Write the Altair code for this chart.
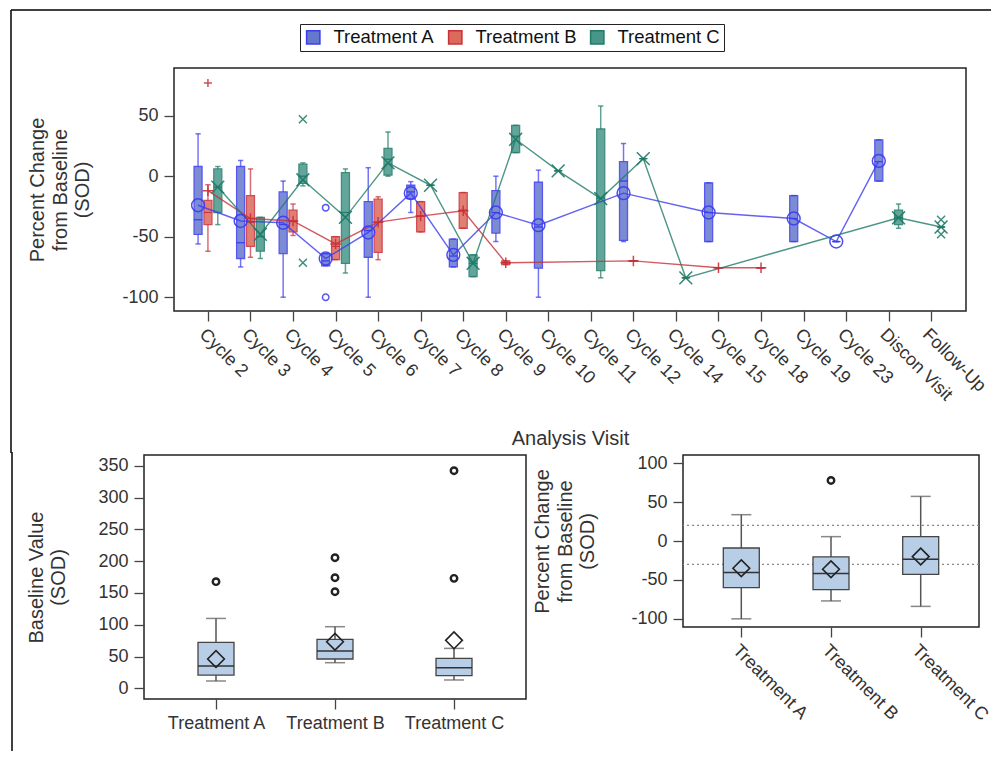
import json
import altair as alt
import pandas as pd

FONT = "Liberation Sans"

visits = ["Cycle 2", "Cycle 3", "Cycle 4", "Cycle 5", "Cycle 6", "Cycle 7", "Cycle 8",
          "Cycle 9", "Cycle 10", "Cycle 11", "Cycle 12", "Cycle 14", "Cycle 15",
          "Cycle 18", "Cycle 19", "Cycle 23", "Discon Visit", "Follow-Up"]
treatments = ["Treatment A", "Treatment B", "Treatment C"]

# ---- Top panel: percent change by visit ----
a_visit = ["Cycle 2", "Cycle 3", "Cycle 4", "Cycle 5", "Cycle 6", "Cycle 7", "Cycle 8",
           "Cycle 9", "Cycle 10", "Cycle 12", "Cycle 15", "Cycle 19", "Cycle 23", "Discon Visit"]
a_low = [-56, -75, -100, -74, -100, -30, -75, -54, -100, -54, -54, -54, -54, -4]
a_q1 = [-48, -68, -64, -74, -67, -18.5, -75, -47, -76, -53, -54, -54, -54, -4]
a_med = [-36, -55, -40, -70, -45, -13, -66, -30, -42, -4, -30, -35, -54, 12]
a_q3 = [8, 8, -13, -64, -21, -7.5, -52, -12, -5, 12, -5.5, -16, -54, 30]
a_high = [35, 13, -4, -64, 7, -4.5, -52, 0, 5, 27, -5.5, -16, -54, 30]
a_mean = [-24, -37, -38.5, -68, -46.5, -14, -65, -30, -40.5, -14, -30, -35, -54, 12.6]
a_out_visit = ["Cycle 5", "Cycle 5"]
a_out_value = [-26, -100]

b_visit = ["Cycle 2", "Cycle 3", "Cycle 4", "Cycle 5", "Cycle 6", "Cycle 7", "Cycle 8",
           "Cycle 9", "Cycle 12", "Cycle 15", "Cycle 18"]
b_low = [-62, -67, -49, -69, -69, -46, -43, -73, -70, -75.7, -75.7]
b_q1 = [-40, -58, -46, -69, -63, -46, -43, -73, -70, -75.7, -75.7]
b_med = [-30, -38, -37, -58, -38, -33, -28, -71.5, -70, -75.7, -75.7]
b_q3 = [-20, -16, -28, -50, -19, -21, -13.5, -70, -70, -75.7, -75.7]
b_high = [-7, 6, -23, -50, -17, -21, -13.5, -70, -70, -75.7, -75.7]
b_mean = [-12, -35, -37, -56, -38, -33, -28.6, -71.5, -70, -75.7, -75.7]
b_out_visit = ["Cycle 2"]
b_out_value = [77]

c_visit = ["Cycle 2", "Cycle 3", "Cycle 4", "Cycle 5", "Cycle 6", "Cycle 7", "Cycle 8",
           "Cycle 9", "Cycle 10", "Cycle 11", "Cycle 12", "Cycle 14", "Discon Visit", "Follow-Up"]
c_low = [-40, -68, -8, -80, 0, -7.5, -83, 19.5, 4.4, -84, 14.5, -84, -43, -42]
c_q1 = [-30, -62, -6, -72, 1, -7.5, -83, 19.5, 4.4, -78, 14.5, -84, -40, -42]
c_med = [-9, -50, 0, -30, 14, -7.5, -72, 33, 4.4, -18, 14.5, -84, -34, -42]
c_q3 = [6, -34, 10, 3, 23, -7.5, -65, 42, 4.4, 39, 14.5, -84, -28, -42]
c_high = [8, -34, 11, 6, 36.5, -7.5, -65, 42, 4.4, 58, 14.5, -84, -23, -42]
c_mean = [-9, -48, -3, -34, 11, -7.5, -72, 30.5, 4.4, -18.5, 14.5, -84, -34.4, -42]
c_out_visit = ["Cycle 4", "Cycle 4", "Follow-Up", "Follow-Up"]
c_out_value = [47, -71.5, -36, -48]

# ---- Bottom-left: baseline value ----
bl_low = [11.6, 40.4, 13.2]
bl_q1 = [21, 46.2, 20]
bl_med = [35.2, 58.8, 32.5]
bl_q3 = [72.3, 77, 47.2]
bl_high = [110, 97, 62.9]
bl_mean = [46.2, 73.4, 75.5]
bl_out_treat = ["Treatment A", "Treatment B", "Treatment B", "Treatment B", "Treatment C", "Treatment C"]
bl_out_value = [167.8, 205.5, 174, 152, 342.3, 173]

# ---- Bottom-right: percent change overall ----
br_low = [-100, -77, -84]
br_q1 = [-60, -62.4, -43]
br_med = [-40.5, -41.8, -23.5]
br_q3 = [-9, -20.5, 5.6]
br_high = [33.8, 5.6, 57.3]
br_mean = [-35, -36.3, -20]
br_out_treat = ["Treatment B"]
br_out_value = [77.8]
br_ref = [20, -30]

# ---------------- build tables ----------------
offsets = {"Treatment A": -0.232, "Treatment B": 0.0, "Treatment C": 0.232}


def stats_frame(name, vis, low, q1, med, q3, high, mean):
    return pd.DataFrame({"visit": vis, "treatment": name, "low": low, "q1": q1,
                         "med": med, "q3": q3, "high": high, "mean": mean})


stats = pd.concat([
    stats_frame("Treatment A", a_visit, a_low, a_q1, a_med, a_q3, a_high, a_mean),
    stats_frame("Treatment B", b_visit, b_low, b_q1, b_med, b_q3, b_high, b_mean),
    stats_frame("Treatment C", c_visit, c_low, c_q1, c_med, c_q3, c_high, c_mean),
], ignore_index=True)
stats["xpos"] = [visits.index(v) + offsets[t] for v, t in zip(stats["visit"], stats["treatment"])]

outs = pd.concat([
    pd.DataFrame({"visit": a_out_visit, "treatment": "Treatment A", "value": a_out_value}),
    pd.DataFrame({"visit": b_out_visit, "treatment": "Treatment B", "value": b_out_value}),
    pd.DataFrame({"visit": c_out_visit, "treatment": "Treatment C", "value": c_out_value}),
], ignore_index=True)
outs["xpos"] = [visits.index(v) + offsets[t] for v, t in zip(outs["visit"], outs["treatment"])]

line_colors = ["#3b3bef", "#c8303a", "#1f7a66"]
box_fill = ["#6478cc", "#dc6a5a", "#47968a"]
plus_path = "M-1,0L1,0M0,-1L0,1"
x_path = "M-1,-1L1,1M-1,1L1,-1"
mean_shapes = ["circle", plus_path, x_path]
mean_sizes = [165, 110, 165]
out_sizes = [42, 64, 64]

stroke_scale = alt.Scale(domain=treatments, range=line_colors)
fill_scale = alt.Scale(domain=treatments, range=box_fill)

leg = alt.Legend(title=None, orient="none", legendX=292, legendY=-44, direction="horizontal",
                 symbolType="square", symbolSize=177, symbolStrokeWidth=1.5, symbolOpacity=1,
                 labelFontSize=18.5, labelFont=FONT, labelColor="#111",
                 strokeColor="#222", padding=4, columnPadding=10, labelOffset=11)

xq = alt.X("xpos:Q", scale=alt.Scale(domain=[-0.68, 17.7], nice=False, zero=False),
           axis=alt.Axis(values=list(range(len(visits))),
                         labelExpr=json.dumps(visits) + "[datum.value]",
                         title="Analysis Visit", labelAngle=45, labelAlign="left",
                         labelBaseline="top", labelPadding=4, titlePadding=25,
                         labelOverlap=False, labelFlush=False, labelBound=False))


def ytop(field):
    return alt.Y(f"{field}:Q", scale=alt.Scale(domain=[-111.4, 89.4], nice=False, zero=False),
                 axis=alt.Axis(values=[-100, -50, 0, 50], labelExpr="'' + datum.value",
                               title=["Percent Change", "from Baseline", "(SOD)"],
                               titlePadding=29, labelPadding=6))


def stroke_enc():
    return alt.Stroke("treatment:N", scale=stroke_scale, legend=None)


base = alt.Chart(stats)
boxes = base.mark_bar(size=8, strokeWidth=1.3, opacity=0.85).encode(
    x=xq, y=ytop("q1"), y2="q3:Q",
    fill=alt.Fill("treatment:N", scale=fill_scale, legend=leg),
    stroke=alt.Stroke("treatment:N", scale=stroke_scale, legend=leg))
whisk_lo = base.mark_rule(strokeWidth=1.5, opacity=0.7).encode(
    x=xq, y=ytop("low"), y2="q1:Q", stroke=stroke_enc())
whisk_hi = base.mark_rule(strokeWidth=1.5, opacity=0.7).encode(
    x=xq, y=ytop("q3"), y2="high:Q", stroke=stroke_enc())
cap_lo = base.mark_tick(orient="horizontal", filled=False, size=4, thickness=0.2,
                        strokeWidth=1.3, opacity=0.7).encode(x=xq, y=ytop("low"), stroke=stroke_enc())
cap_hi = base.mark_tick(orient="horizontal", filled=False, size=4, thickness=0.2,
                        strokeWidth=1.3, opacity=0.7).encode(x=xq, y=ytop("high"), stroke=stroke_enc())
meds = base.mark_tick(orient="horizontal", filled=False, size=8, thickness=0.2,
                      strokeWidth=1, opacity=0.8).encode(x=xq, y=ytop("med"), stroke=stroke_enc())
mline = base.mark_line(strokeWidth=1.4, opacity=0.8).encode(
    x=xq, y=ytop("mean"), stroke=stroke_enc())

point_layers = []
for t, shp, ms, osz in zip(treatments, mean_shapes, mean_sizes, out_sizes):
    point_layers.append(
        base.transform_filter(alt.datum.treatment == t).mark_point(
            shape=shp, size=ms, filled=False, strokeWidth=1.5, opacity=0.9
        ).encode(x=xq, y=ytop("mean"), stroke=stroke_enc()))
    point_layers.append(
        alt.Chart(outs).transform_filter(alt.datum.treatment == t).mark_point(
            shape=shp, size=osz, filled=False, strokeWidth=1.5, opacity=0.85
        ).encode(x=xq, y=ytop("value"), stroke=stroke_enc()))

# graph frame (decoration): top edge and upper part of the left edge
frame_top = alt.Chart(pd.DataFrame({"v": [0]})).mark_rule(color="#000", strokeWidth=1.5).encode(
    x=alt.value(-163), x2=alt.value(817), y=alt.value(-58))
frame_left1 = alt.Chart(pd.DataFrame({"v": [0]})).mark_rule(color="#000", strokeWidth=1.5).encode(
    x=alt.value(-163), y=alt.value(-58), y2=alt.value(385))

top = alt.layer(boxes, whisk_lo, whisk_hi, cap_lo, cap_hi, meds, mline, *point_layers,
                frame_top, frame_left1).properties(width=792, height=243)

# ---------------- bottom panels ----------------
bl_df = pd.DataFrame({"treatment": treatments, "low": bl_low, "q1": bl_q1, "med": bl_med,
                      "q3": bl_q3, "high": bl_high, "mean": bl_mean})
bl_out = pd.DataFrame({"treatment": bl_out_treat, "value": bl_out_value})

br_df = pd.DataFrame({"treatment": treatments, "low": br_low, "q1": br_q1, "med": br_med,
                      "q3": br_q3, "high": br_high, "mean": br_mean})
br_out = pd.DataFrame({"treatment": br_out_treat, "value": br_out_value})
br_ref_df = pd.DataFrame({"ref": br_ref})

BOX_FILL = "#b8cde6"
DARK = "#222222"


def box_layers(df, odf, xenc, yfn):
    b = alt.Chart(df)
    wh = b.mark_rule(strokeWidth=1.5, color="#555").encode(x=xenc, y=yfn("low"), y2="high:Q")
    c1 = b.mark_tick(orient="horizontal", size=20, thickness=1.5, color="#555").encode(x=xenc, y=yfn("low"))
    c2 = b.mark_tick(orient="horizontal", size=20, thickness=1.5, color="#555").encode(x=xenc, y=yfn("high"))
    bx = b.mark_bar(size=36, fill=BOX_FILL, stroke="#444", strokeWidth=1.3, opacity=1).encode(
        x=xenc, y=yfn("q1"), y2="q3:Q")
    md = b.mark_tick(orient="horizontal", size=36, thickness=1.5, color="#333", opacity=1).encode(
        x=xenc, y=yfn("med"))
    mn = b.mark_point(shape="diamond", filled=False, size=280, stroke=DARK, strokeWidth=1.6,
                      opacity=1).encode(x=xenc, y=yfn("mean"))
    ot = alt.Chart(odf).mark_point(shape="circle", filled=False, size=42, stroke=DARK,
                                   strokeWidth=2.4, opacity=1).encode(x=xenc, y=yfn("value"))
    return [wh, c1, c2, bx, md, mn, ot]


xbl = alt.X("treatment:N", sort=treatments, scale=alt.Scale(type="point", padding=0.605),
            axis=alt.Axis(title=None, labelAngle=0, labelPadding=5))


def ybl(field):
    return alt.Y(f"{field}:Q", scale=alt.Scale(domain=[-16.7, 367], nice=False, zero=False),
                 axis=alt.Axis(values=[0, 50, 100, 150, 200, 250, 300, 350], labelExpr="'' + datum.value",
                               title=["Baseline Value", "(SOD)"], titlePadding=29, labelPadding=6))


bl = alt.layer(*box_layers(bl_df, bl_out, xbl, ybl)).properties(width=382, height=244)

xbr = alt.X("treatment:N", sort=treatments, scale=alt.Scale(type="point", padding=0.65),
            axis=alt.Axis(title=None, labelAngle=45, labelAlign="left", labelBaseline="top", labelPadding=4))


def ybr(field):
    return alt.Y(f"{field}:Q", scale=alt.Scale(domain=[-110.5, 110.5], nice=False, zero=False),
                 axis=alt.Axis(values=[-100, -50, 0, 50, 100], labelExpr="'' + datum.value",
                               title=["Percent Change", "from Baseline", "(SOD)"],
                               titlePadding=33, labelPadding=6))


refs = alt.Chart(br_ref_df).mark_rule(strokeDash=[2, 3], color="#888", strokeWidth=1.3).encode(y=ybr("ref"))
br = alt.layer(refs, *box_layers(br_df, br_out, xbr, ybr)).properties(width=296, height=172)

# layout helpers: an empty cell in row 1, and in row 2 a cell that carries the lower part of the frame
spacer1 = alt.Chart(pd.DataFrame({"v": [0]})).mark_rule(opacity=0, strokeWidth=0).encode(
    x=alt.value(0), y=alt.value(0), y2=alt.value(1)
).properties(width=1, height=1, view=alt.ViewBackground(stroke=None))
spacer2 = alt.Chart(pd.DataFrame({"v": [0]})).mark_rule(color="#000", strokeWidth=1.5).encode(
    x=alt.value(4), y=alt.value(-3), y2=alt.value(296)
).properties(width=17, height=1, view=alt.ViewBackground(stroke=None))

row1 = alt.hconcat(spacer1, top, spacing=0)
row2 = alt.hconcat(spacer2, alt.hconcat(bl, br, spacing=5), spacing=0)

chart = alt.vconcat(row1, row2, spacing=-11).properties(
    padding={"left": 0, "top": 0, "right": 0, "bottom": 0}
).configure_view(stroke="#222", strokeWidth=1.5).configure_axis(
    domain=False, grid=False, tickColor="#444", tickSize=10, tickWidth=1.3,
    labelFont=FONT, titleFont=FONT, labelFontSize=18, titleFontSize=20,
    labelColor="#333", titleColor="#333", titleFontWeight="normal", titleLineHeight=22.5
).configure_legend(labelFont=FONT)

chart.save("out.html", embed_options={"renderer": "svg", "actions": False})
